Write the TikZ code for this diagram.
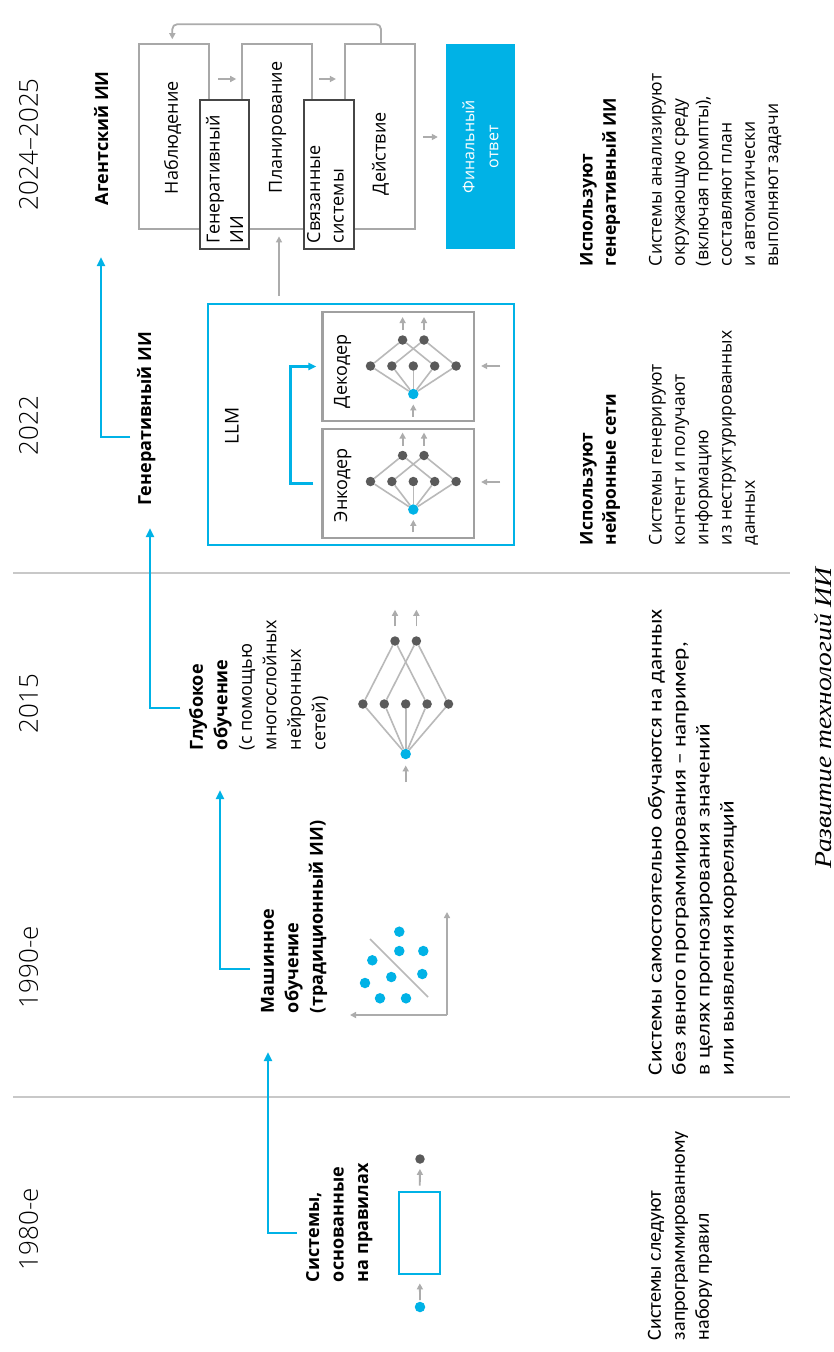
\documentclass[tikz,border=0pt]{standalone}
\usepackage{graphicx}
\usepackage{fontspec}
\setmainfont{Open Sans}
\newfontfamily\calfont{Carlito}
\newfontfamily\calwide{Carlito}[FakeStretch=1.16]
\newfontfamily\capfont{Liberation Serif}
\newfontfamily\yrfont{Open Sans Light}
\usetikzlibrary{arrows.meta,calc}
\definecolor{cy}{RGB}{0,178,230}
\definecolor{ddc}{RGB}{90,90,90}
\definecolor{nlc}{RGB}{185,185,185}
\definecolor{gac}{RGB}{172,172,172}
\definecolor{lbc}{RGB}{168,168,168}
\definecolor{dbc}{RGB}{70,70,70}
\definecolor{ebc}{RGB}{160,160,160}
\definecolor{dvc}{RGB}{200,200,200}
\newcommand{\mknet}[5]{%
  \node[bd] (#1b) at (#2,#3) {};
  \foreach \i/\dx in {1/-42.8,2/-21.4,3/0,4/21.4,5/42.8}{\node[dd] (#1m\i) at (#2+\dx,#3-#4) {};}
  \node[dd] (#1t1) at (#2-10.7,#3-#4-#5) {};
  \node[dd] (#1t2) at (#2+10.7,#3-#4-#5) {};
  \foreach \i in {1,...,5}{\draw[nl] (#1b) -- (#1m\i);}
  \draw[nl] (#1t1) -- (#1m1);
  \draw[nl] (#1t1) -- (#1m4);
  \draw[nl] (#1t2) -- (#1m2);
  \draw[nl] (#1t2) -- (#1m5);
}
\begin{document}
\begin{tikzpicture}[x=1pt,y=-1pt,
  txt/.style={rotate=90,inner sep=0pt,outer sep=0pt,align=left,anchor=north west},
  yr/.style={txt,font=\yrfont\fontsize{26}{30}\selectfont},
  hd/.style={txt,font=\fontsize{18}{24.5}\selectfont\bfseries},
  hdr/.style={txt,font=\fontsize{18}{24.5}\selectfont},
  ds/.style={txt,font=\fontsize{17.5}{23.3}\selectfont},
  dsb/.style={txt,font=\fontsize{17.5}{23.3}\selectfont\bfseries},
  dsc/.style={txt,font=\calfont\fontsize{20}{24}\selectfont},
  dscw/.style={txt,font=\calwide\fontsize{20}{24}\selectfont},
  bxt/.style={txt,font=\fontsize{18}{23.5}\selectfont},
  tl/.style={draw=cy,line width=2.8pt,-{Triangle[length=9pt,width=8pt]}},
  ga/.style={draw=gac,line width=1.8pt,-{Triangle[length=6pt,width=6pt]}},
  nl/.style={draw=nlc,line width=1.6pt},
  bd/.style={circle,fill=cy,inner sep=0pt,minimum size=10.5pt},
  dd/.style={circle,fill=ddc,inner sep=0pt,minimum size=9.5pt},
  lbox/.style={draw=lbc,line width=2.2pt,inner sep=0pt},
  dbox/.style={draw=dbc,fill=white,line width=2.2pt,inner sep=0pt},
  ebox/.style={draw=ebc,line width=2.4pt,inner sep=0pt},
  dv/.style={draw=dvc,line width=2pt}
]
\fill[white] (0,0) rectangle (834,1352);
\useasboundingbox (0,0) rectangle (834,1352);

% dividers
\coordinate (d1a) at (13,1097); \coordinate (d1b) at (790,1097);
\coordinate (d2a) at (13,573);  \coordinate (d2b) at (790,573);
\draw[dv] (d1a) -- (d1b);
\draw[dv] (d2a) -- (d2b);

% years
\node[yr] (y1) at (19,1270) {1980-е};
\node[yr] (y2) at (19,1008) {1990-е};
\node[yr] (y3) at (19,733) {2015};
\node[yr] (y4) at (19,455) {2022};
\node[yr] (y5) at (19,210) {2024–2025};

% headings
\node[hd] (h1) at (306,1282) {Системы,\\основанные\\на правилах};
\node[hd] (h2) at (261,1013) {Машинное\\обучение\\(традиционный ИИ)};
\node[hdr] (h3) at (189,750) {\textbf{Глубокое}\\\textbf{обучение}\\(с помощью\\многослойных\\нейронных\\сетей)};
\node[hd] (h4) at (137,505) {Генеративный ИИ};
\node[hd] (h5) at (94,205) {Агентский ИИ};

% timeline arrows
\coordinate (s1) at (297,1233); \coordinate (t1) at (268,1052);
\coordinate (s2) at (250,969);  \coordinate (t2) at (220,790);
\coordinate (s3) at (180,708);  \coordinate (t3) at (150,528);
\coordinate (s4) at (130,437);  \coordinate (t4) at (101,257);
\draw[tl] (s1) -| (t1);
\draw[tl] (s2) -| (t2);
\draw[tl] (s3) -| (t3);
\draw[tl] (s4) -| (t4);

% descriptions
\node[dsc] (e1) at (648,1340) {Системы следуют\\запрограммированному\\набору правил};
\node[dscw] (e2) at (648,1075) {Системы самостоятельно обучаются на данных\\без явного программирования – например,\\в целях прогнозирования значений\\или выявления корреляций};
\node[dsb] (b3) at (580,545) {Используют\\нейронные сети};
\node[ds] (e3) at (649,545) {Системы генерируют\\контент и получают\\информацию\\из неструктурированных\\данных};
\node[dsb] (b4) at (580,266) {Используют\\генеративный ИИ};
\node[ds] (e4) at (649,266) {Системы анализируют\\окружающую среду\\(включая промпты),\\составляют план\\и автоматически\\выполняют задачи};

% caption
\node[rotate=90,inner sep=0pt,anchor=base,text depth=0pt,font=\capfont\itshape\fontsize{24}{28}\selectfont] (cap) at (831,718) {\scalebox{1.15}[1]{Развитие технологий ИИ}};

% 1980s rule box
\node[draw=cy,line width=2.8pt,minimum width=41pt,minimum height=82pt,inner sep=0pt] (rbx) at (419.5,1233) {};
\node[bd] (rbd) at (420,1307) {};
\node[dd] (rgd) at (420,1159) {};
\draw[ga,shorten <=1.5pt,shorten >=8pt] (rbd) -- (rbx);
\draw[ga,shorten <=5pt,shorten >=5pt] (rbx) -- (rgd);

% 1990s scatter
\coordinate (ax0) at (447,1015); \coordinate (axv) at (447,912); \coordinate (axh) at (350,1015);
\draw[ga] (ax0) -- (axv);
\draw[ga] (ax0) -- (axh);
\coordinate (sl1) at (370,939); \coordinate (sl2) at (428,997);
\draw[nl] (sl1) -- (sl2);
\foreach \n/\px/\py in {1/399.3/931.7,2/399.3/951,3/423.3/951,4/372.3/960.3,5/422.3/974,6/391.3/977,7/365/983,8/380/998.3,9/406/998.3}
  {\node[bd] (sc\n) at (\px,\py) {};}

% 2015 network
\mknet{dl}{405.7}{754}{50}{63}
\draw[ga,shorten <=9.6pt] (dlt1.north) -- ++(0,-26.3);
\draw[ga,shorten <=9.6pt] (dlt2.north) -- ++(0,-26.3);
\draw[ga,shorten >=6pt] ($(dlb.south)+(0,22.7)$) -- (dlb.south);

% LLM
\node[draw=cy,line width=2.8pt,minimum width=306pt,minimum height=241pt,inner sep=0pt] (llm) at (361,424.5) {};
\node[txt,font=\fontsize{19}{23}\selectfont] (llmt) at (225,444) {LLM};
\node[ebox,minimum width=151.3pt,minimum height=109pt] (dec) at (398.3,366.5) {};
\node[ebox,minimum width=151.3pt,minimum height=109pt] (enc) at (398.3,483.2) {};
\node[bxt] (dect) at (334,408) {Декодер};
\node[bxt] (enct) at (334,522) {Энкодер};
\mknet{de}{413.3}{394}{28}{26}
\mknet{en}{413.3}{509.5}{28}{26}
\foreach \p in {de,en}{
  \draw[ga,shorten <=5pt] (\p t1.north) -- ++(0,-18);
  \draw[ga,shorten <=5pt] (\p t2.north) -- ++(0,-18);
  \draw[ga,shorten >=5pt] ($(\p b.south)+(0,17.5)$) -- (\p b.south);
}
\coordinate (sa1) at (500,366); \coordinate (sa2) at (500,482);
\draw[ga,shorten >=6pt] (sa1) -- (dec.east |- sa1);
\draw[ga,shorten >=6pt] (sa2) -- (enc.east |- sa2);
\draw[draw=cy,line width=2.6pt,-{Triangle[length=8pt,width=7pt]},shorten <=8pt,shorten >=5pt] (enc.west) -- ++(-31,0) |- (dec.west);

% Agent diagram
\node[lbox,minimum width=70pt,minimum height=185pt] (obs) at (174.3,136.8) {};
\node[lbox,minimum width=70pt,minimum height=185pt] (plan) at (277.3,136.8) {};
\node[lbox,minimum width=70pt,minimum height=185pt] (act) at (380,136.8) {};
\node[dbox,minimum width=49.3pt,minimum height=149.3pt] (gen) at (224.7,174.7) {};
\node[dbox,minimum width=50pt,minimum height=149.3pt] (con) at (329,174.7) {};
\node[fill=cy,minimum width=69pt,minimum height=205pt,inner sep=0pt] (fin) at (480.5,146.8) {};
\node[bxt] (obst) at (164,194) {Наблюдение};
\node[bxt] (plant) at (269,193) {Планирование};
\node[bxt] (actt) at (372,195) {Действие};
\node[bxt] (gent) at (206,243) {Генеративный\\ИИ};
\node[bxt] (cont) at (307,243) {Связанные\\системы};
\node[rotate=90,align=center,inner sep=0pt,text=white,font=\fontsize{16}{24}\selectfont] (fint) at (fin.center) {Финальный\\ответ};
\coordinate (ya) at (0,79); \coordinate (yb) at (0,137);
\draw[ga,shorten <=8pt,shorten >=5pt] (obs.east |- ya) -- (plan.west |- ya);
\draw[ga,shorten <=6pt,shorten >=8pt] (plan.east |- ya) -- (act.west |- ya);
\draw[ga,shorten <=7pt,shorten >=8pt] (act.east |- yb) -- (fin.west |- yb);
\draw[ga,rounded corners=5pt,shorten >=4pt] ([xshift=1pt]act.north) -- ++(0,-19) -| ([xshift=-2pt]obs.north);
\coordinate (xa) at (279,0);
\draw[ga,shorten <=7pt,shorten >=6pt] (xa |- llm.north) -- (xa |- plan.south);
\end{tikzpicture}
\end{document}
